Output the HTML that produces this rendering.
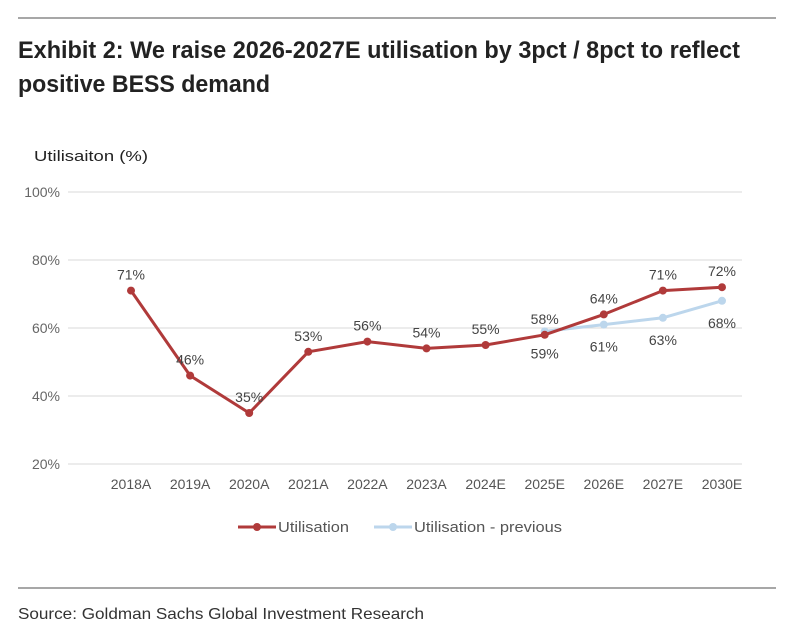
<!DOCTYPE html>
<html><head><meta charset="utf-8"><style>
body{margin:0;background:#fff;}
svg{display:block;font-family:"Liberation Sans",sans-serif;}
</style></head><body>
<svg id="c" width="794" height="640">
<line x1="18" y1="18" x2="776" y2="18" stroke="#8a8a8a" stroke-width="1.5"/>
<text x="18" y="58" font-size="24" font-weight="bold" fill="#222" textLength="722" lengthAdjust="spacingAndGlyphs">Exhibit 2: We raise 2026-2027E utilisation by 3pct / 8pct to reflect</text>
<text x="18" y="92" font-size="24" font-weight="bold" fill="#222" textLength="252" lengthAdjust="spacingAndGlyphs">positive BESS demand</text>
<text x="34" y="161" font-size="15" fill="#222" textLength="114" lengthAdjust="spacingAndGlyphs">Utilisaiton (%)</text>
<g id="grid"></g><g id="marks"></g>
<g>
<line x1="238" y1="527" x2="276" y2="527" stroke="#b03a3a" stroke-width="3"/>
<circle cx="257" cy="527" r="4" fill="#b03a3a"/>
<text x="278" y="532" font-size="15" fill="#555" textLength="71" lengthAdjust="spacingAndGlyphs">Utilisation</text>
<line x1="374" y1="527" x2="412" y2="527" stroke="#bcd6ec" stroke-width="3"/>
<circle cx="393" cy="527" r="4" fill="#bcd6ec"/>
<text x="414" y="532" font-size="15" fill="#555" textLength="148" lengthAdjust="spacingAndGlyphs">Utilisation - previous</text>
</g>
<line x1="18" y1="588" x2="776" y2="588" stroke="#8a8a8a" stroke-width="1.5"/>
<text x="18" y="619" font-size="16" fill="#333" textLength="406" lengthAdjust="spacingAndGlyphs">Source: Goldman Sachs Global Investment Research</text>
</svg>
<script>
const categories=["2018A","2019A","2020A","2021A","2022A","2023A","2024E","2025E","2026E","2027E","2030E"];
const utilisation=[71,46,35,53,56,54,55,58,64,71,72];
const previous=[null,null,null,null,null,null,null,59,61,63,68];
const yTicks=[20,40,60,80,100];
const NS="http://www.w3.org/2000/svg";
function x(i){return 131+i*59.1;}
function y(v){return 464-(v-20)*3.4;}
function mk(t,a,p){const e=document.createElementNS(NS,t);for(const k in a)e.setAttribute(k,a[k]);p.appendChild(e);return e;}
const grid=document.getElementById('grid'),marks=document.getElementById('marks');
yTicks.forEach(v=>{
 const l=mk('line',{x1:68,x2:742,y1:y(v),y2:y(v),stroke:'#d9d9d9','stroke-width':1},grid);
 
 
 const t=mk('text',{x:60,y:y(v)+5,'font-size':14,fill:'#666','text-anchor':'end'},grid);t.textContent=v+'%';
 
 
});
categories.forEach((c,i)=>{
 const t=mk('text',{x:x(i),y:489,'font-size':14,fill:'#555','text-anchor':'middle'},grid);t.textContent=c;
 
 
});
function series(vals,color,name,below){
 const pts=vals.map((v,i)=>v==null?null:[x(i),y(v)]).filter(p=>p);
 const pl=mk('polyline',{points:pts.map(p=>p.join(',')).join(' '),fill:'none',stroke:color,'stroke-width':3,'stroke-linejoin':'round'},marks);
 
 
 vals.forEach((v,i)=>{if(v==null)return;
  const c=mk('circle',{cx:x(i),cy:y(v),r:4,fill:color},marks);
  
  
  const t=mk('text',{x:x(i),y:below?y(v)+27:y(v)-11,'font-size':14,fill:'#444','text-anchor':'middle'},marks);t.textContent=v+'%';
  
  
 });
}
series(previous,'#bcd6ec','previous',true);
series(utilisation,'#b03a3a','utilisation',false);
</script>
</body></html>
